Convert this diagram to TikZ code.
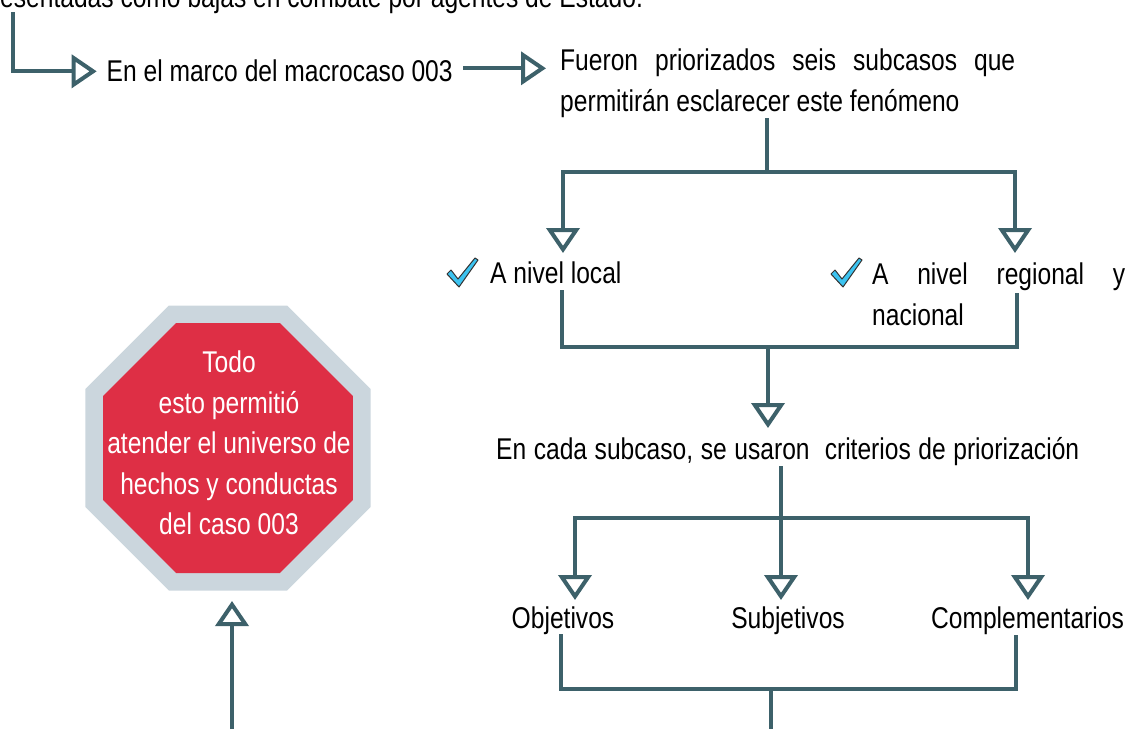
\documentclass[tikz,border=0pt]{standalone}
\usepackage{fontspec}
\setmainfont[FakeStretch=0.82]{Liberation Sans}
\usetikzlibrary{arrows.meta,shapes.geometric}
\definecolor{linec}{HTML}{3D616A}
\definecolor{stopred}{HTML}{DE2F45}
\definecolor{stopgrey}{HTML}{CBD6DD}
\definecolor{checkblue}{HTML}{3CC3F0}
\begin{document}
\begin{tikzpicture}[x=1pt,y=-1pt,
  font=\fontsize{30}{41}\selectfont,
  txt/.style={inner sep=0pt, anchor=base west, text=black},
  ctxt/.style={inner sep=0pt, anchor=base, text=black},
  conn/.style={draw=linec, line width=4pt, line join=miter},
  hbar/.style={draw=linec, line width=4pt, line cap=rect},
  tip/.style={-{Triangle[open, length=25pt, width=33pt]}},
  checkmark/.pic={
    \filldraw[fill=checkblue, draw=black!80, line width=1pt, line join=round]
      (0,16) -- (4,12) -- (11,21) -- (28,0) -- (31,2) -- (12,29) -- cycle;
  }]
\useasboundingbox (0,0) rectangle (1133,729);

% ---------- texts ----------
\node[txt] (top) at (0,7) {esentadas como bajas en combate por agentes de Estado.};
\node[txt] (marco) at (106.5,81.7) {En el marco del macrocaso 003};
\node[txt] (fueron1) at (560,70.5) {\makebox[455pt][s]{Fueron priorizados seis subcasos que}};
\node[txt] (fueron2) at (560,111.5) {permitirán esclarecer este fenómeno};
\node[txt] (local) at (490,283) {A nivel local};
\node[txt] (regional1) at (872,284) {\makebox[253pt][s]{A nivel regional y}};
\node[txt] (regional2) at (872,325) {nacional};
\node[txt] (cada) at (496,459) {\makebox[583pt][s]{En cada subcaso, se usaron\ \ criterios de priorización}};
\node[ctxt] (obj) at (563,628) {Objetivos};
\node[ctxt] (subj) at (788,628) {Subjetivos};
\node[ctxt] (compl) at (1027.5,628) {Complementarios};

\pic at (447,258) {checkmark};
\pic at (831,258) {checkmark};

% ---------- stop sign ----------
\node[regular polygon, regular polygon sides=8, fill=stopgrey, inner sep=0pt,
      minimum size=308.5pt] (stopout) at (228,448) {};
\node[regular polygon, regular polygon sides=8, fill=stopred, inner sep=0pt,
      minimum size=270.6pt] (stopin) at (228,448) {};
\node[text=white, align=center, inner sep=0pt, font=\fontsize{30}{40.5}\selectfont]
  (stoptext) at (229,443) {Todo\\esto permitió\\atender el universo de\\hechos y conductas\\del caso 003};

% ---------- coordinates ----------
\coordinate (c0) at (12.7,12);
\coordinate (c1) at (12.7,71.3);
\coordinate (a1) at (96.7,71.3);
\coordinate (m0) at (463,68.3);
\coordinate (m1) at (546,68.3);
\coordinate (s1) at (767,118);
\coordinate (h1) at (767,171.5);
\coordinate (t1) at (563,253);
\coordinate (t2) at (1015,253);
\coordinate (b2l) at (562,290);
\coordinate (b2r) at (1017,293);
\coordinate (b2m) at (768,347);
\coordinate (t3) at (768,428);
\coordinate (s3) at (781,466);
\coordinate (h3) at (781,518);
\coordinate (u1) at (575,600);
\coordinate (u2) at (781,600);
\coordinate (u3) at (1028,600);
\coordinate (b4l) at (561,634);
\coordinate (b4r) at (1016,635);
\coordinate (b4m) at (771,689);
\coordinate (e4) at (771,729);
\coordinate (up0) at (232,729);
\coordinate (up1) at (232,601);

% ---------- connectors ----------
\draw[conn,tip] (c0) -- (c1) -- (a1);
\draw[conn,tip] (m0) -- (m1);
\draw[conn] (s1) -- (h1);
\draw[hbar] (t1 |- h1) -- (t2 |- h1);
\draw[conn,tip] (t1 |- h1) -- (t1);
\draw[conn,tip] (t2 |- h1) -- (t2);
\draw[conn] (b2l) -- (b2l |- b2m) -- (b2r |- b2m) -- (b2r);
\draw[conn,tip] (b2m) -- (t3);
\draw[conn] (s3) -- (h3);
\draw[hbar] (u1 |- h3) -- (u3 |- h3);
\draw[conn,tip] (u1 |- h3) -- (u1);
\draw[conn,tip] (h3) -- (u2);
\draw[conn,tip] (u3 |- h3) -- (u3);
\draw[conn] (b4l) -- (b4l |- b4m) -- (b4r |- b4m) -- (b4r);
\draw[conn] (b4m) -- (e4);
\draw[conn,tip] (up0) -- (up1);
\end{tikzpicture}
\end{document}
